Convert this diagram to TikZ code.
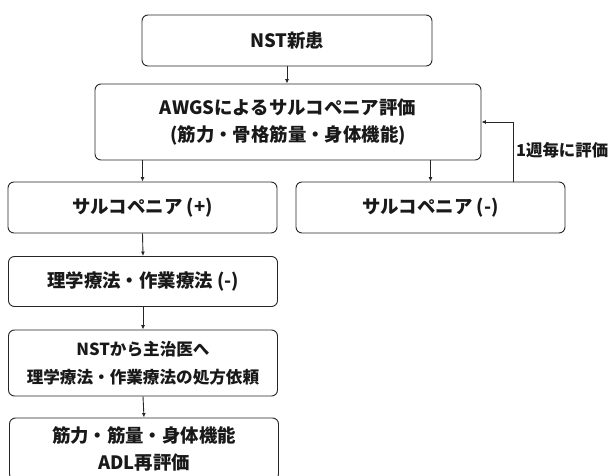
\documentclass[tikz,border=0pt]{standalone}
\usepackage{fontspec}
\setmainfont{Noto Sans CJK JP}
\usetikzlibrary{arrows.meta}
\begin{document}
\begin{tikzpicture}[x=1pt,y=-1pt,
  box/.style={draw=black!85, line width=0.9pt, rounded corners=6pt, align=center,
    inner sep=0pt, font=\fontsize{18.4}{27}\selectfont\bfseries, text=black!90},
  smalltext/.style={font=\fontsize{16.6}{28}\selectfont\bfseries},
  arr/.style={draw=black!85, line width=0.9pt, -{Latex[length=4.5pt,width=4pt]}},
  lbl/.style={font=\fontsize{16.4}{18}\selectfont\bfseries, text=black!90, inner sep=0pt}]
\clip (0,0) rectangle (611,476);
\useasboundingbox (0,0) rectangle (611,476);
\node[box, minimum width=290pt, minimum height=51pt] (b1) at (287,40.5) {NST新患};
\node[box, minimum width=386pt, minimum height=76pt] (b2) at (288,122) {AWGSによるサルコペニア評価\\(筋力・骨格筋量・身体機能)};
\node[box, minimum width=269pt, minimum height=51pt] (b3) at (142.5,207.5) {サルコペニア (+)};
\node[box, minimum width=269pt, minimum height=51pt] (b4) at (430.5,207.5) {サルコペニア (-)};
\node[box, minimum width=269pt, minimum height=50pt] (b5) at (143,281.5) {理学療法・作業療法 (-)};
\node[box, smalltext, minimum width=269pt, minimum height=66pt] (b6) at (143,363) {NSTから主治医へ\\理学療法・作業療法の処方依頼};
\node[box, minimum width=269pt, minimum height=62pt] (b7) at (144,449) {筋力・筋量・身体機能\\ADL再評価};
\coordinate (fbx) at (513,0);
\node[lbl, anchor=west] (l1) at (516,150) {1週毎に評価};
\draw[arr] (b1.south) -- (b2.north -| b1.south);
\draw[arr] (b2.south -| b3.north) -- (b3.north);
\draw[arr] (b2.south -| b4.north) -- (b4.north);
\draw[arr] (b3.south) -- (b5.north);
\draw[arr] (b5.south) -- (b6.north);
\draw[arr] (b6.south) -- (b7.north);
\draw[arr] (b4.north -| fbx) |- (b2.east);
\end{tikzpicture}
\end{document}
